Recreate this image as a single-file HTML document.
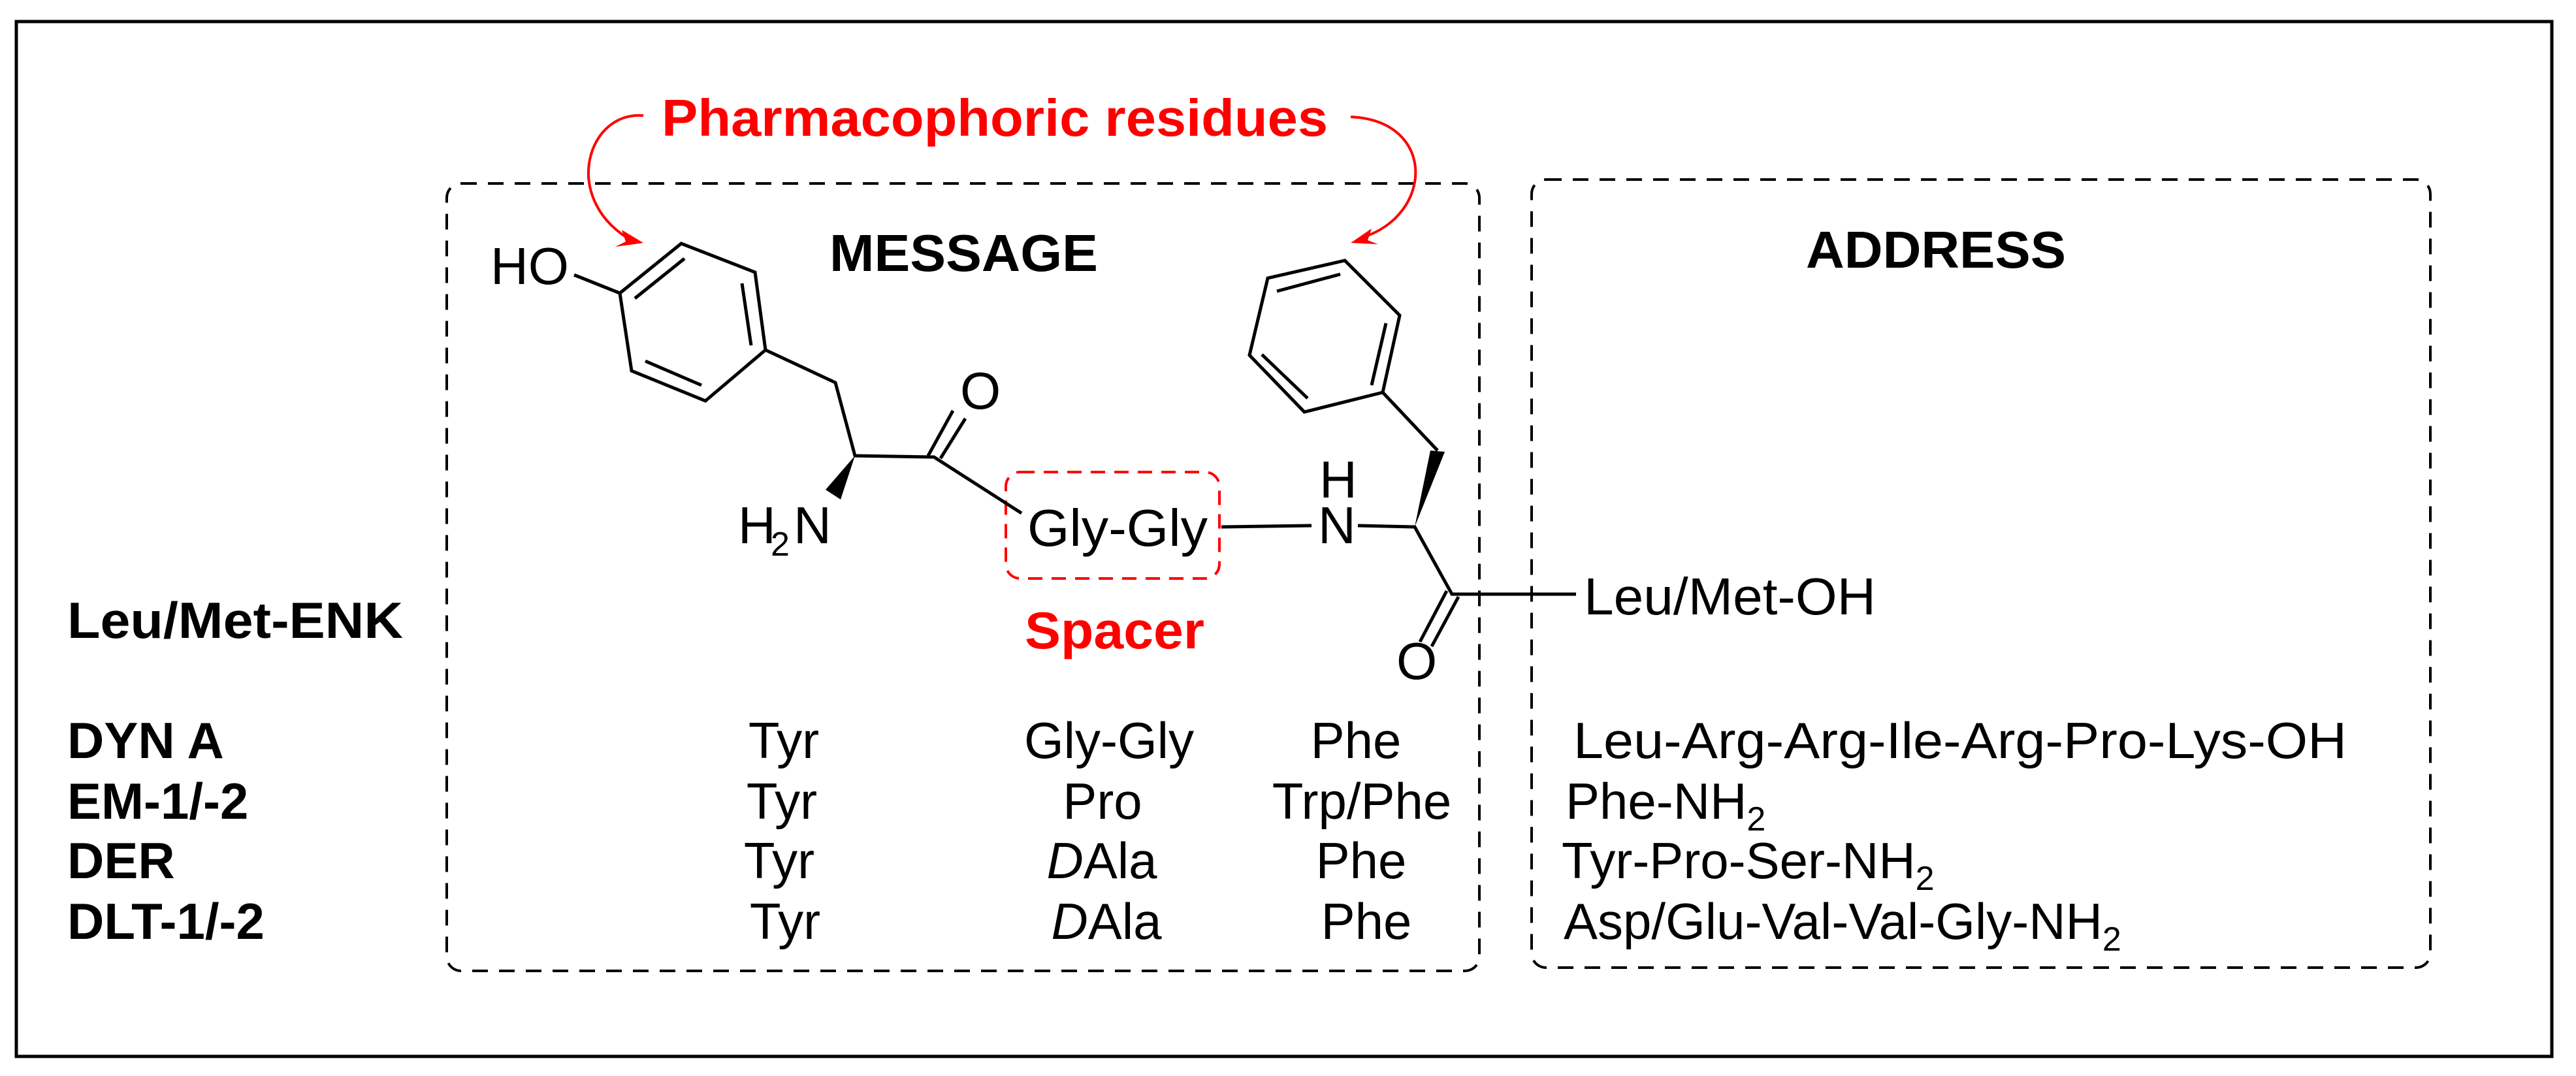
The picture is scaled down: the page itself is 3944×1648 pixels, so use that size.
<!DOCTYPE html>
<html><head><meta charset="utf-8"><style>
html,body{margin:0;padding:0;background:#fff;}
svg{display:block;}
text{font-family:"Liberation Sans",Arial,sans-serif;}
.b{font-weight:bold;}
</style></head><body>
<svg width="3944" height="1648" viewBox="0 0 3944 1648" xmlns="http://www.w3.org/2000/svg">
<rect x="25" y="33" width="3882" height="1585" fill="none" stroke="#000" stroke-width="5"/>
<!-- boxes -->
<rect x="684" y="281" width="1581" height="1206" rx="22" fill="none" stroke="#000" stroke-width="4" stroke-dasharray="24,17"/>
<rect x="2345" y="275" width="1376" height="1207" rx="22" fill="none" stroke="#000" stroke-width="4" stroke-dasharray="24,17"/>
<rect x="1540" y="723" width="327" height="163" rx="22" fill="none" stroke="#f00" stroke-width="4" stroke-dasharray="22,14"/>

<!-- red arrows -->
<g fill="none" stroke="#f00" stroke-width="4">
<path d="M985,177 C900,170 860,300 960,364"/>
<path d="M2068,179 C2200,185 2195,330 2085,364"/>
</g>
<polygon points="985,372 952,352 958,370 942,378" fill="#f00"/>
<polygon points="2068,372 2100,350 2094,368 2110,374" fill="#f00"/>
<text x="1013" y="208" class="b" font-size="80" fill="#f00" textLength="1020" lengthAdjust="spacingAndGlyphs">Pharmacophoric residues</text>

<!-- bonds -->
<g stroke="#000" stroke-width="5" fill="none" stroke-linecap="butt">
<polyline points="949,449 1043,373 1156,417 1172,536 1080,614 967,568 949,449"/>
<line x1="879" y1="421" x2="949" y2="449"/>
<line x1="972" y1="457" x2="1048" y2="396"/>
<line x1="1136" y1="434" x2="1150" y2="529"/>
<line x1="988" y1="553" x2="1074" y2="590"/>
<polyline points="1172,536 1279,586 1309,698 1430,700 1564,786"/>
<line x1="1421" y1="698" x2="1459" y2="629"/>
<line x1="1440" y1="702" x2="1478" y2="641"/>
<line x1="1870" y1="807" x2="2008" y2="805"/>
<polyline points="2079,805 2166,807 2223,910 2413,910"/>
<line x1="2215" y1="905" x2="2174" y2="983"/>
<line x1="2233" y1="914" x2="2192" y2="990"/>
<polyline points="2201,690 2117,601 2143,483 2059,399 1941,426 1913,544 1997,631 2117,601"/>
<line x1="1955" y1="446" x2="2052" y2="420"/>
<line x1="2122" y1="495" x2="2100" y2="590"/>
<line x1="1932" y1="543" x2="2002" y2="610"/>
</g>
<polygon points="1309,698 1264,750 1287,765" fill="#000"/>
<polygon points="2166,807 2190,690 2212,692" fill="#000"/>

<!-- structure labels -->
<g font-size="80" fill="#000">
<text x="751" y="435">HO</text>
<text x="1130" y="832">H</text>
<text x="1180" y="851" font-size="52">2</text>
<text x="1215" y="832">N</text>
<text x="1470" y="626">O</text>
<text x="1573" y="836" textLength="276" lengthAdjust="spacingAndGlyphs">Gly-Gly</text>
<text x="2020" y="762">H</text>
<text x="2018" y="832">N</text>
<text x="2138" y="1040">O</text>
<text x="2425" y="941" textLength="447" lengthAdjust="spacingAndGlyphs">Leu/Met-OH</text>
</g>
<text x="1569" y="993" class="b" font-size="80" fill="#f00" textLength="275" lengthAdjust="spacingAndGlyphs">Spacer</text>
<text x="1270" y="415" class="b" font-size="80" textLength="411" lengthAdjust="spacingAndGlyphs">MESSAGE</text>
<text x="2765" y="410" class="b" font-size="80" textLength="398" lengthAdjust="spacingAndGlyphs">ADDRESS</text>

<!-- left labels -->
<g class="b" font-size="78">
<text x="103" y="977" textLength="514" lengthAdjust="spacingAndGlyphs">Leu/Met-ENK</text>
<text x="103" y="1161">DYN A</text>
<text x="103" y="1254">EM-1/-2</text>
<text x="103" y="1345">DER</text>
<text x="103" y="1438">DLT-1/-2</text>
</g>

<!-- table -->
<g font-size="78" text-anchor="middle">
<text x="1200" y="1161">Tyr</text>
<text x="1197" y="1254">Tyr</text>
<text x="1193" y="1345">Tyr</text>
<text x="1202" y="1438">Tyr</text>
<text x="1698" y="1161">Gly-Gly</text>
<text x="1688" y="1254">Pro</text>
<text x="1687" y="1345"><tspan font-style="italic">D</tspan>Ala</text>
<text x="1694" y="1438"><tspan font-style="italic">D</tspan>Ala</text>
<text x="2076" y="1161">Phe</text>
<text x="2085" y="1254">Trp/Phe</text>
<text x="2084" y="1345">Phe</text>
<text x="2092" y="1438">Phe</text>
</g>
<g font-size="78">
<text x="2409" y="1161" textLength="1184" lengthAdjust="spacingAndGlyphs">Leu-Arg-Arg-Ile-Arg-Pro-Lys-OH</text>
<text x="2397" y="1254">Phe-NH<tspan font-size="52" dy="18">2</tspan></text>
<text x="2391" y="1345">Tyr-Pro-Ser-NH<tspan font-size="52" dy="18">2</tspan></text>
<text x="2394" y="1438">Asp/Glu-Val-Val-Gly-NH<tspan font-size="52" dy="18">2</tspan></text>
</g>
</svg>
</body></html>
